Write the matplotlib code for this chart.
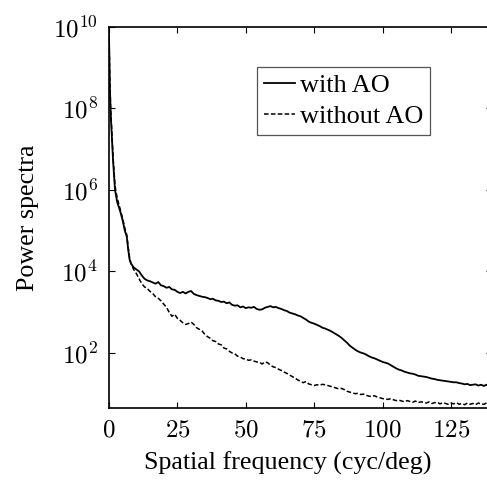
import numpy as np
import matplotlib
matplotlib.use("Agg")
import matplotlib.pyplot as plt

plt.rcParams['mathtext.fontset'] = 'cm'
plt.rcParams['font.family'] = ['Liberation Serif', 'DejaVu Serif']

# Spatial frequency (cyc/deg)
freq_low = [0, 0.3, 0.6, 1.0, 1.5, 2.2, 3.0, 4.0, 5.0, 5.8, 6.5, 7.0, 7.5, 8.0, 9.0, 10.0]
freq_high = list(range(11, 141))

# log10 of power spectra
log_ao_low = [9.8, 8.6, 7.9, 7.35, 6.7, 6.0, 5.7, 5.5, 5.25, 5.0, 4.85, 4.55, 4.3, 4.2, 4.1, 4.05]
log_ao_high = [
    4.00, 3.90, 3.82, 3.78, 3.76, 3.73, 3.70, 3.74, 3.66, 3.64,
    3.60, 3.62, 3.56, 3.55, 3.50, 3.47, 3.50, 3.46, 3.50, 3.52,
    3.45, 3.42, 3.40, 3.38, 3.37, 3.35, 3.32, 3.33, 3.29, 3.28,
    3.25, 3.26, 3.22, 3.24, 3.18, 3.16, 3.17, 3.12, 3.14, 3.10,
    3.12, 3.11, 3.13, 3.08, 3.06, 3.07, 3.11, 3.13, 3.15, 3.12,
    3.13, 3.10, 3.08, 3.05, 3.03, 2.99, 2.97, 2.95, 2.92, 2.90,
    2.86, 2.82, 2.77, 2.74, 2.72, 2.69, 2.66, 2.62, 2.60, 2.57,
    2.54, 2.50, 2.46, 2.42, 2.37, 2.31, 2.25, 2.18, 2.13, 2.08,
    2.04, 2.01, 1.99, 1.96, 1.92, 1.89, 1.87, 1.84, 1.81, 1.78,
    1.76, 1.74, 1.70, 1.66, 1.62, 1.59, 1.57, 1.54, 1.52, 1.50,
    1.49, 1.47, 1.44, 1.43, 1.42, 1.41, 1.39, 1.37, 1.36, 1.34,
    1.33, 1.32, 1.31, 1.30, 1.29, 1.28, 1.28, 1.26, 1.25, 1.23,
    1.24, 1.21, 1.22, 1.23, 1.20, 1.22, 1.19, 1.22, 1.20, 1.21,
]
log_noao_low = [9.8, 8.7, 8.0, 7.45, 6.8, 6.1, 5.8, 5.55, 5.3, 5.05, 4.9, 4.6, 4.35, 4.2, 4.05, 3.95]
log_noao_high = [
    3.82, 3.70, 3.62, 3.58, 3.51, 3.46, 3.38, 3.34, 3.28, 3.20,
    3.12, 3.00, 2.90, 2.95, 2.85, 2.80, 2.74, 2.70, 2.72, 2.76,
    2.70, 2.62, 2.58, 2.54, 2.46, 2.40, 2.36, 2.30, 2.28, 2.22,
    2.20, 2.12, 2.10, 2.04, 2.00, 1.98, 1.92, 1.90, 1.86, 1.85,
    1.82, 1.83, 1.80, 1.78, 1.77, 1.73, 1.78, 1.76, 1.70, 1.66,
    1.64, 1.60, 1.57, 1.53, 1.50, 1.46, 1.42, 1.38, 1.34, 1.30,
    1.27, 1.30, 1.24, 1.22, 1.20, 1.22, 1.21, 1.23, 1.22, 1.20,
    1.18, 1.16, 1.14, 1.12, 1.13, 1.10, 1.06, 1.04, 1.02, 1.00,
    1.01, 0.98, 0.99, 0.96, 0.94, 0.93, 0.95, 0.92, 0.90, 0.88,
    0.87, 0.86, 0.88, 0.85, 0.83, 0.84, 0.82, 0.80, 0.83, 0.81,
    0.79, 0.82, 0.78, 0.80, 0.79, 0.77, 0.80, 0.76, 0.78, 0.79,
    0.75, 0.78, 0.76, 0.74, 0.77, 0.75, 0.78, 0.74, 0.76, 0.73,
    0.77, 0.74, 0.76, 0.73, 0.77, 0.75, 0.74, 0.77, 0.74, 0.75,
]

x_ticks = [0, 25, 50, 75, 100, 125]
y_ticks = [1e2, 1e4, 1e6, 1e8, 1e10]
y_tick_labels = [r'$10^{2}$', r'$10^{4}$', r'$10^{6}$', r'$10^{8}$', r'$10^{10}$']

freq = np.array(freq_low + freq_high, dtype=float)
ao = 10 ** np.array(log_ao_low + log_ao_high)
noao = 10 ** np.array(log_noao_low + log_noao_high)

W, H = 487, 482
fig = plt.figure(figsize=(W / 100, H / 100), dpi=100)
ax = fig.add_axes([109 / W, 1 - 408 / H, (492 - 109) / W, (408 - 27) / H])

ax.plot(freq, ao, color='black', lw=1.3, ls='-', label='with AO')
ax.plot(freq, noao, color='black', lw=1.1, ls=(0, (3, 1.5)), label='without AO')

ax.set_yscale('log')
ax.set_xlim(0, 140)
ax.set_ylim(10 ** 0.649, 1e10)
ax.set_xticks(x_ticks)
ax.set_xticklabels([rf'${t}$' for t in x_ticks])
ax.set_yticks(y_ticks)
ax.set_yticklabels(y_tick_labels)
ax.minorticks_off()
ax.tick_params(direction='in', length=4, width=0.8, top=True, right=True,
               labelsize=18, pad=8)
for s in ax.spines.values():
    s.set_linewidth(1.2)

ax.set_xlabel('Spatial frequency (cyc/deg)', fontsize=18.7)
ax.xaxis.set_label_coords((288 - 109) / (492 - 109), -(462 - 408) / (408 - 27),
                          transform=None)
ax.xaxis.label.set_va('center')
ax.xaxis.set_label_coords((288 - 109) / (492 - 109), -(463 - 408) / (408 - 27))
ax.set_ylabel('Power spectra', fontsize=18.7, labelpad=10)

leg = ax.legend(loc='upper left', bbox_to_anchor=(257 / W, 1 - 67 / H),
                bbox_transform=fig.transFigure, borderaxespad=0,
                fontsize=18.9, frameon=True, fancybox=False, framealpha=1,
                edgecolor='#555555', handlelength=1.2, handletextpad=0.2,
                borderpad=0.25, labelspacing=0.3)
leg.get_frame().set_linewidth(0.9)

fig.savefig('out.png', dpi=100)
